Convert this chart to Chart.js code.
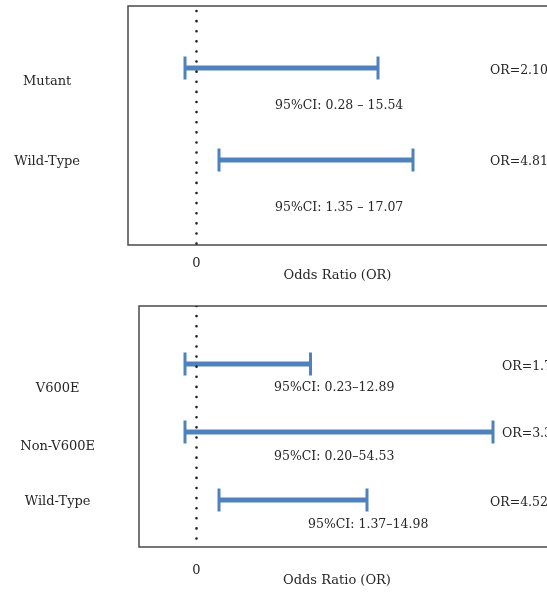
<!DOCTYPE html>
<html>
<head>
<meta charset="utf-8">
<title>Odds ratio forest plots</title>
<script src="https://cdn.jsdelivr.net/npm/chart.js@4.4.1/dist/chart.umd.min.js"></script>
<style>
  html, body { margin: 0; padding: 0; background: #fff; overflow: hidden; }
  canvas { position: absolute; left: 0; display: block; }
  #mutChart { top: 0; }
  #braChart { top: 290px; }
</style>
</head>
<body>
<canvas id="mutChart" width="547" height="290"></canvas>
<canvas id="braChart" width="547" height="302"></canvas>
<script>
// --- top panel: mutation status ---
const mutRows = ['Mutant', 'Wild-Type'];
const mutCiLow = [0.28, 1.35];
const mutCiHigh = [15.54, 17.07];
const mutOr = ['2.10', '4.81'];
// the bars are schematic, not to scale: ends in axis units (0 = dotted line)
const mutBarFrom = [-1.15, 2.25];
const mutBarTo = [18.15, 21.65];

// --- bottom panel: BRAF status ---
const braRows = ['V600E', 'Non-V600E', 'Wild-Type'];
const braCiLow = [0.23, 0.20, 1.37];
const braCiHigh = [12.89, 54.53, 14.98];
const braOr = ['1.7', '3.3', '4.52']; // cut off at the right edge in the source
const braBarFrom = [-1.15, -1.15, 2.25];
const braBarTo = [11.4, 29.65, 17.05];

const BLUE = '#4f81bd';
const INK = '#262626';
const FONT_FAMILY = '"DejaVu Serif", "Liberation Serif", serif';
const FONT_SIZE = 13;
const NOTE_SIZE = 12.5;

Chart.defaults.font.family = FONT_FAMILY;
Chart.defaults.font.size = FONT_SIZE;
Chart.defaults.color = INK;

// box round the plot; right side runs off the canvas like in the source
const framePlugin = {
    id: 'frame',
    beforeDatasetsDraw(chart) {
        const {ctx, chartArea: a} = chart;
        ctx.save();
        ctx.strokeStyle = '#4a4a4a';
        ctx.lineWidth = 1.5;
        ctx.beginPath();
        ctx.moveTo(chart.width + 5, a.top);
        ctx.lineTo(a.left, a.top);
        ctx.lineTo(a.left, a.bottom);
        ctx.lineTo(chart.width + 5, a.bottom);
        ctx.stroke();
        ctx.restore();
    }
};

// CI and OR captions next to each row
const notesPlugin = {
    id: 'notes',
    afterDatasetsDraw(chart, args, opts) {
        const {ctx, scales: {x, y}} = chart;
        ctx.save();
        ctx.font = NOTE_SIZE + 'px ' + FONT_FAMILY;
        ctx.fillStyle = INK;
        ctx.textAlign = 'left';
        ctx.textBaseline = 'middle';
        opts.ci.forEach((t, i) => {
            ctx.fillText(t, x.getPixelForValue(opts.ciX[i]), y.getPixelForValue(i + opts.ciDy[i]));
        });
        opts.or.forEach((t, i) => {
            ctx.fillText(t, x.getPixelForValue(opts.orX[i]), y.getPixelForValue(i + opts.orDy[i]));
        });
        ctx.restore();
    }
};

// drop the label overhang padding so the chart area sits exactly where we want it
function noOverhang(s) {
    s.paddingTop = 0;
    s.paddingBottom = 0;
    s.paddingLeft = 0;
    s.paddingRight = 0;
}

function drawForest(canvasId, p) {
    const ctx = document.getElementById(canvasId).getContext('2d');
    const datasets = [{
        // dotted line at zero
        data: [{x: 0, y: p.yMin}, {x: 0, y: p.yMax}],
        showLine: true,
        borderColor: '#1e1e1e',
        borderWidth: 2.6,
        borderDash: [0.01, 10.1],
        borderDashOffset: p.dotOffset,
        borderCapStyle: 'round',
        pointRadius: 0
    }];
    p.rows.forEach((row, i) => {
        datasets.push({
            label: row,
            data: [{x: p.from[i], y: i}, {x: p.to[i], y: i}],
            showLine: true,
            borderColor: BLUE,
            borderWidth: 5,
            pointStyle: 'line',
            pointRotation: 90,
            pointRadius: 11.5,
            pointBorderWidth: 3,
            pointBorderColor: BLUE,
            pointBackgroundColor: BLUE
        });
    });
    const ci = p.rows.map((r, i) => '95%CI: ' + p.low[i].toFixed(2) + p.sep + p.high[i].toFixed(2));
    const or = p.or.map(v => 'OR=' + v);

    return new Chart(ctx, {
        type: 'scatter',
        data: {datasets},
        options: {
            responsive: false,
            animation: false,
            events: [],
            layout: {autoPadding: false, padding: {top: p.padTop, right: p.padRight, left: 0, bottom: 0}},
            plugins: {
                legend: {display: false},
                tooltip: {enabled: false},
                notes: {ci, or, ciX: p.ciX, ciDy: p.ciDy, orX: p.orX, orDy: p.orDy}
            },
            scales: {
                x: {
                    type: 'linear',
                    min: p.xMin,
                    max: p.xMax,
                    grid: {display: false, drawTicks: false},
                    border: {display: false},
                    afterBuildTicks: s => { s.ticks = [{value: 0}]; },
                    ticks: {padding: p.zeroPad, callback: () => '0'},
                    title: {display: true, text: 'Odds Ratio (OR)', padding: {top: 0, bottom: p.titlePad}},
                    afterFit: s => { s.height = 45; noOverhang(s); }
                },
                y: {
                    type: 'linear',
                    reverse: true,
                    min: p.yMin,
                    max: p.yMax,
                    grid: {display: false, drawTicks: false},
                    border: {display: false},
                    afterBuildTicks: s => { s.ticks = p.rows.map((r, i) => ({value: i + p.labelDy[i]})); },
                    ticks: {autoSkip: false, crossAlign: 'center', padding: p.labelPad, callback: (v, i) => p.rows[i]},
                    afterFit: s => { s.width = p.axisW; noOverhang(s); }
                }
            }
        },
        plugins: [framePlugin, notesPlugin]
    });
}

drawForest('mutChart', {
    rows: mutRows, low: mutCiLow, high: mutCiHigh, or: mutOr, from: mutBarFrom, to: mutBarTo,
    sep: ' \u2013 ',
    xMin: -6.85, xMax: 35.05, yMin: -0.674, yMax: 1.924,
    padTop: 6, padRight: 0, axisW: 128, labelPad: 48, zeroPad: 11, titlePad: 7, dotOffset: 5.1,
    labelDy: [0.152, 0.022], ciX: [7.85, 7.85], ciDy: [0.41, 0.52],
    orX: [29.35, 29.35], orDy: [0.033, 0.022]
});

drawForest('braChart', {
    rows: braRows, low: braCiLow, high: braCiHigh, or: braOr, from: braBarFrom, to: braBarTo,
    sep: '\u2013',
    xMin: -5.75, xMax: 33.85, yMin: -0.853, yMax: 2.691,
    padTop: 16, padRight: 12, axisW: 139, labelPad: 44, zeroPad: 16, titlePad: 4, dotOffset: 0,
    labelDy: [0.368, 0.22, 0.03], ciX: [7.75, 7.75, 11.15], ciDy: [0.353, 0.368, 0.368],
    orX: [30.55, 30.55, 29.35], orDy: [0.044, 0.03, 0.044]
});
</script>
</body>
</html>
